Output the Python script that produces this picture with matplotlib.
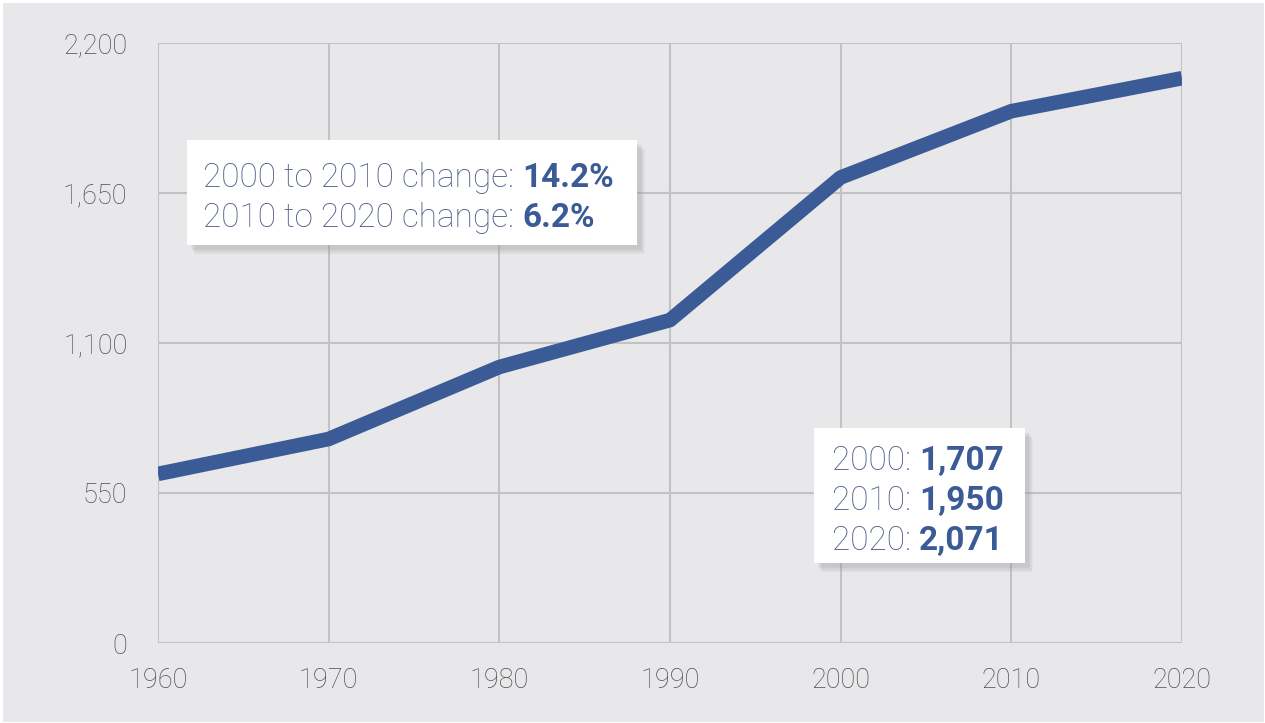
import matplotlib
matplotlib.use("Agg")
import matplotlib.pyplot as plt
from matplotlib.patches import Rectangle
from matplotlib.text import Annotation

# -------------------------
# Data
# -------------------------
years = [1960, 1970, 1980, 1990, 2000, 2010, 2020]
population = [620, 748, 1012, 1184, 1707, 1950, 2071]
y_ticks = [0, 550, 1100, 1650, 2200]
y_tick_labels = ["0", "550", "1,100", "1,650", "2,200"]

change_rows = [("2000 to 2010 change: ", "14.2%"), ("2010 to 2020 change: ", "6.2%")]
value_rows = [("2000: ", "1,707"), ("2010: ", "1,950"), ("2020: ", "2,071")]

# -------------------------
# Style
# -------------------------
W, H = 1265, 723
bg = "#e8e8ea"
line_color = "#3b5b96"
light_text = "#4d5d88"
bold_text = "#3b5b96"
grid_color = "#c2c2c4"
plt.rcParams["font.family"] = ["Roboto", "DejaVu Sans"]

fig = plt.figure(figsize=(W / 100, H / 100), dpi=100)
fig.patch.set_facecolor("white")


def fx(px):
    return px / W


def fy(py):
    return 1 - py / H


# grey panel inside a thin white frame
fig.patches.append(Rectangle((fx(3), fy(H - 1)), fx(W - 4), fy(3) - fy(H - 1),
                             transform=fig.transFigure, facecolor=bg,
                             edgecolor="none", zorder=-10))

ax = fig.add_axes([fx(158), 1 - 643 / H, fx(1024), 600 / H])
ax.set_facecolor(bg)
ax.patch.set_alpha(0)

ax.plot(years, population, color=line_color, lw=10.5, solid_capstyle="butt",
        solid_joinstyle="round", zorder=3)

ax.set_xlim(1960, 2020)
ax.set_ylim(0, 2200)
ax.set_xticks(years)
ax.set_yticks(y_ticks)
ax.set_yticklabels(y_tick_labels)
ax.grid(True, color=grid_color, lw=1.5, zorder=0)
ax.set_axisbelow(True)
for s in ax.spines.values():
    s.set_visible(False)
ax.tick_params(length=0, labelsize=19.5, labelcolor="#505050")
ax.tick_params(axis="y", pad=22)
ax.tick_params(axis="x", pad=17)
for lab in ax.get_xticklabels() + ax.get_yticklabels():
    lab.set_fontweight("light")


def box(x0, y0, x1, y1):
    # soft drop shadow
    for i in range(8, 0, -1):
        fig.patches.append(Rectangle((fx(x0 + 3 + i * 0.6), fy(y1 + 3 + i * 0.8)),
                                     fx(x1 - x0), fy(y0) - fy(y1),
                                     transform=fig.transFigure, facecolor="#9a9aa0",
                                     edgecolor="none", alpha=0.06, zorder=5))
    fig.patches.append(Rectangle((fx(x0), fy(y1)), fx(x1 - x0), fy(y0) - fy(y1),
                                 transform=fig.transFigure, facecolor="white",
                                 edgecolor="none", zorder=6))


def rows(x, y_first, rows_, step):
    for i, (light, bold) in enumerate(rows_):
        t = fig.text(fx(x), fy(y_first + i * step), light, fontsize=24,
                     fontweight="light", color=light_text, va="baseline",
                     ha="left", zorder=7)
        b = Annotation(bold, xy=(1, 0), xycoords=t, fontsize=24, fontweight="bold",
                       color=bold_text, va="bottom", ha="left", zorder=8,
                       annotation_clip=False)
        fig.add_artist(b)


box(187, 140, 637, 245)
rows(203, 187, change_rows, 40)

box(814, 428, 1025, 563)
rows(832, 470, value_rows, 40)

fig.savefig("out.png", dpi=100, facecolor=fig.get_facecolor())
